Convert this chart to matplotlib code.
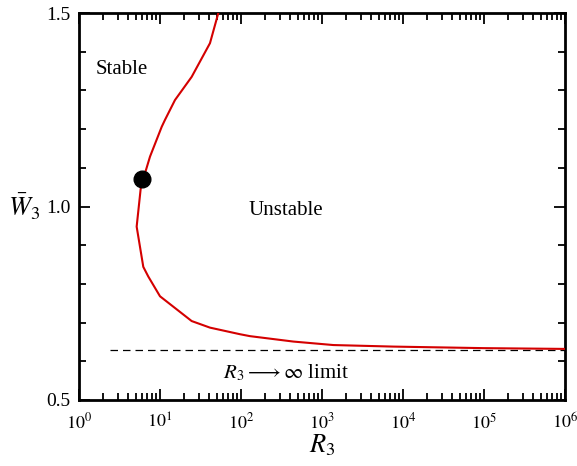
import matplotlib
matplotlib.use("Agg")
import matplotlib.pyplot as plt
from matplotlib.ticker import LogLocator, MultipleLocator, NullFormatter

plt.rcParams['font.family'] = ['Liberation Serif', 'DejaVu Serif']
plt.rcParams['mathtext.fontset'] = 'stix'

# neutral stability curve
R3 = [52.5, 41.4, 24.6, 15.3, 11.5, 10.5, 7.53, 6.53, 5.94, 5.15, 6.22, 7.17,
      10.0, 24.6, 41.4, 97, 129, 443, 1380, 7600, 1e5, 1e6]
W3 = [1.5, 1.422, 1.335, 1.275, 1.2235, 1.206, 1.129, 1.086, 1.07, 0.948, 0.844, 0.819,
      0.768, 0.704, 0.687, 0.670, 0.665, 0.651, 0.642, 0.638, 0.634, 0.632]
# marked point
dot_R3 = [5.94]
dot_W3 = [1.07]
# asymptotic limit
limit_R3 = [2.4, 1e6]
limit_W3 = [0.63, 0.63]
# axis ticks
xticks = [1, 10, 100, 1e3, 1e4, 1e5, 1e6]
xticklabels = [r'$10^{0}$', r'$10^{1}$', r'$10^{2}$', r'$10^{3}$', r'$10^{4}$', r'$10^{5}$', r'$10^{6}$']

fig = plt.figure(figsize=(5.77, 4.66), dpi=100)
ax = fig.add_axes([79/577, 1-400/466, (565-79)/577, (400-13)/466])

ax.plot(R3, W3, color='#d40000', lw=1.5, zorder=3)
ax.plot(limit_R3, limit_W3, color='black', lw=0.9, ls=(0, (6, 4)), zorder=2)
ax.plot(dot_R3, dot_W3, 'o', color='black', ms=12, zorder=4)

ax.set_xscale('log')
ax.set_xlim(1, 1e6)
ax.set_ylim(0.5, 1.5)
ax.set_xticks(xticks)
ax.set_xticklabels(xticklabels)
ax.xaxis.set_minor_locator(LogLocator(base=10, subs=range(2, 10), numticks=20))
ax.xaxis.set_minor_formatter(NullFormatter())
ax.yaxis.set_major_locator(MultipleLocator(0.5))
ax.yaxis.set_minor_locator(MultipleLocator(0.1))
ax.yaxis.set_major_formatter(plt.FuncFormatter(lambda v, p: f"{v:.1f}"))

ax.tick_params(which='both', direction='in', top=True, right=True, labelsize=14, width=1.3)
ax.tick_params(which='major', length=8)
ax.tick_params(which='minor', length=5)
ax.tick_params(axis='x', which='major', labelsize=13, pad=9)
ax.tick_params(axis='y', which='major', pad=6)
for s in ax.spines.values():
    s.set_linewidth(2)

ax.set_xlabel(r'$R_3$', fontsize=19, labelpad=0)
ax.set_ylabel(r'$\bar{W}_3$', fontsize=19, rotation=0, labelpad=16, va='center')

ax.text(1.62, 1.353, 'Stable', fontsize=15, ha='left', va='center')
ax.text(125, 0.99, 'Unstable', fontsize=15, ha='left', va='center')
ax.text(60, 0.57, r'$R_3 \longrightarrow \infty$ limit', fontsize=15, ha='left', va='center')

fig.savefig('out.png', dpi=100)
